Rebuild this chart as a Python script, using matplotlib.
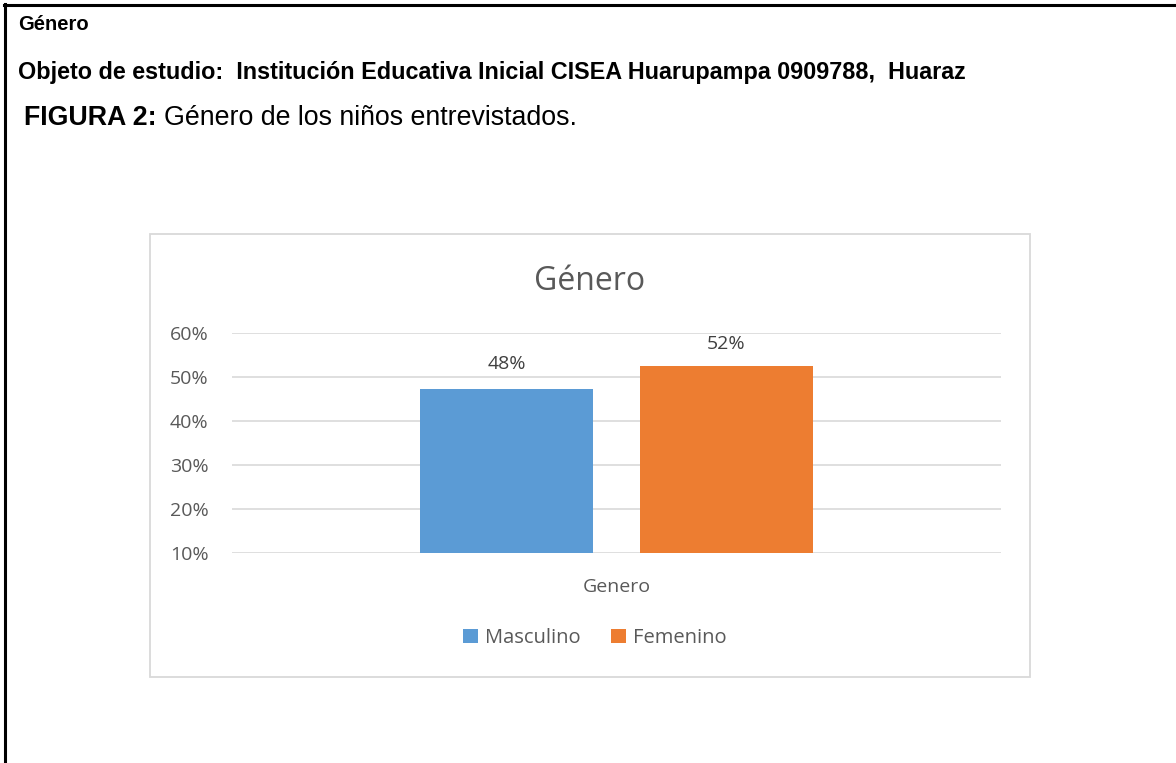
import matplotlib.pyplot as plt
from matplotlib.patches import Rectangle, Patch
from matplotlib.lines import Line2D

# data
series = ['Masculino', 'Femenino']
values = [0.473, 0.525]
value_labels = ['48%', '52%']
colors = ['#5b9bd5', '#ed7d31']
category = 'Genero'
yticks = [0.1, 0.2, 0.3, 0.4, 0.5, 0.6]

W, H = 1176, 763
fig = plt.figure(figsize=(W / 100, H / 100), dpi=100)
fig.patch.set_facecolor('white')

def fx(px):
    return px / W

def fy(py):
    return 1 - py / H

# page border (top and left only)
fig.add_artist(Line2D([fx(4), fx(W)], [fy(4.5), fy(4.5)], color='black', lw=2.2))
fig.add_artist(Line2D([fx(4.5), fx(4.5)], [fy(4), fy(H)], color='black', lw=2.2))

# header text
fig.text(fx(18), fy(25), 'Género', fontsize=14.5, fontweight='bold',
         family='Liberation Sans', va='center', ha='left')
fig.text(fx(18), fy(72), 'Objeto de estudio:  Institución Educativa Inicial CISEA Huarupampa 0909788,  Huaraz',
         fontsize=16.8, fontweight='bold', family='Liberation Sans', va='center', ha='left')
t1 = fig.text(fx(24), fy(118), 'FIGURA 2:', fontsize=19.3, fontweight='bold',
              family='Liberation Sans', va='center', ha='left')
fig.canvas.draw()
bb = t1.get_window_extent()
fig.text(bb.x1 / W + fx(7), fy(118), 'Género de los niños entrevistados.', fontsize=19.3,
         family='Liberation Sans', va='center', ha='left')

# chart frame
fig.add_artist(Rectangle((fx(150), fy(677)), fx(1030) - fx(150), fy(234) - fy(677),
                         transform=fig.transFigure, fill=False, edgecolor='#d9d9d9', lw=1.3))

ax = fig.add_axes([fx(232), fy(553), fx(1001) - fx(232), fy(333) - fy(553)])
offsets = [-0.286, 0.286]
label_gap = [18, 16]
for off, v, c, lab, txt, gap in zip(offsets, values, colors, series, value_labels, label_gap):
    ax.bar(off, v - yticks[0], bottom=yticks[0], width=0.45, color=c, label=lab, zorder=3)
    ax.annotate(txt, (off, v), xytext=(0, gap), textcoords='offset points',
                ha='center', va='center', fontsize=14, color='#404040', family='Open Sans')

ax.set_xlim(-1, 1)
ax.set_ylim(yticks[0], yticks[-1])
ax.set_yticks(yticks)
ax.set_yticklabels(['%d%%' % round(t * 100) for t in yticks])
ax.set_xticks([0])
ax.set_xticklabels([category])
ax.tick_params(axis='y', length=0, labelsize=14, labelcolor='#595959', pad=17)
ax.tick_params(axis='x', length=0, labelsize=14, labelcolor='#595959', pad=18)
for lbl in ax.get_xticklabels() + ax.get_yticklabels():
    lbl.set_family('Open Sans')
for s in ax.spines.values():
    s.set_visible(False)
ax.grid(axis='y', color='#d9d9d9', lw=1.2, zorder=0)
ax.set_axisbelow(True)

fig.text(fx(590), fy(281), 'Género', fontsize=23, color='#595959',
         family='Open Sans', ha='center', va='center')

handles = [Patch(facecolor=c, label=s) for c, s in zip(colors, series)]
leg = fig.legend(handles=handles, loc='center', bbox_to_anchor=(fx(595), fy(638)),
                 ncol=2, frameon=False, handlelength=0.75, handleheight=0.75,
                 handletextpad=0.35, columnspacing=1.5,
                 prop={'family': 'Open Sans', 'size': 14.5})
for t in leg.get_texts():
    t.set_color('#595959')

fig.savefig('out.png', dpi=100)
